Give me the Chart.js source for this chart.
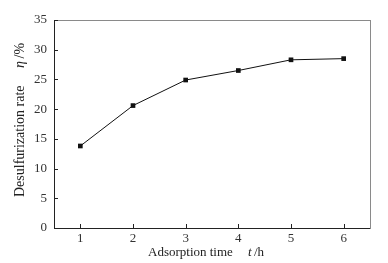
<!DOCTYPE html>
<html>
<head>
<meta charset="utf-8">
<script src="https://cdn.jsdelivr.net/npm/chart.js@4/dist/chart.umd.min.js"></script>
<style>
  html, body { margin: 0; padding: 0; background: #fff; }
  #wrap { width: 388px; height: 263px; }
</style>
</head>
<body>
<div id="wrap"><canvas id="chart" width="388" height="263"></canvas></div>
<script>
// data
const hours = [1, 2, 3, 4, 5, 6];
const rate = [13.8, 20.6, 24.9, 26.5, 28.3, 28.5];
const xTicks = [1, 2, 3, 4, 5, 6];
const yTicks = [0, 5, 10, 15, 20, 25, 30, 35];

const FONT = "Liberation Serif, 'Times New Roman', serif";

// box + inward ticks + axis titles
const frame = {
  id: "frame",
  afterDraw(chart) {
    const { ctx, chartArea: a, scales } = chart;
    ctx.save();
    ctx.strokeStyle = "#8a8a8a";
    ctx.lineWidth = 1;
    ctx.strokeRect(a.left + 0.5, a.top + 0.5, a.right - a.left, a.bottom - a.top);
    ctx.strokeStyle = "#222";
    ctx.beginPath();
    ctx.moveTo(a.left + 0.5, a.top);
    ctx.lineTo(a.left + 0.5, a.bottom + 0.5);
    ctx.lineTo(a.right, a.bottom + 0.5);
    ctx.stroke();

    ctx.beginPath();
    xTicks.forEach((v) => {
      const x = Math.round(scales.x.getPixelForValue(v)) + 0.5;
      ctx.moveTo(x, a.bottom);
      ctx.lineTo(x, a.bottom - 4);
    });
    yTicks.forEach((v) => {
      const y = Math.round(scales.y.getPixelForValue(v)) + 0.5;
      ctx.moveTo(a.left, y);
      ctx.lineTo(a.left + 4, y);
    });
    ctx.stroke();

    ctx.fillStyle = "#222";
    ctx.textBaseline = "middle";
    // x title
    ctx.font = "13px " + FONT;
    ctx.textAlign = "left";
    ctx.fillText("Adsorption time", 148, 253);
    ctx.font = "italic 13px " + FONT;
    ctx.fillText("t", 248, 253);
    ctx.font = "13px " + FONT;
    ctx.fillText("/h", 254, 253);

    // y title
    ctx.translate(20, 0);
    ctx.rotate(-Math.PI / 2);
    ctx.font = "14px " + FONT;
    ctx.fillText("Desulfurization rate", -197, 0);
    ctx.font = "italic 14px " + FONT;
    ctx.fillText("η", -68, 0);
    ctx.font = "14px " + FONT;
    ctx.fillText(" /%", -62, 0);
    ctx.restore();
  },
};

new Chart(document.getElementById("chart"), {
  type: "line",
  data: {
    datasets: [
      {
        data: hours.map((h, i) => ({ x: h, y: rate[i] })),
        borderColor: "#111",
        borderWidth: 1,
        backgroundColor: "#111",
        pointStyle: "rect",
        pointRadius: 3.3,
        pointBorderWidth: 0,
        tension: 0,
      },
    ],
  },
  options: {
    responsive: false,
    animation: false,
    layout: { padding: { top: 20, right: 18, left: 0, bottom: 0 } },
    plugins: { legend: { display: false }, tooltip: { enabled: false } },
    scales: {
      x: {
        type: "linear",
        min: 0.5,
        max: 6.5,
        afterBuildTicks: (s) => { s.ticks = xTicks.map((v) => ({ value: v })); },
        afterFit: (s) => { s.height = 35; },
        grid: { display: false, drawTicks: false },
        border: { display: false },
        ticks: { color: "#333", padding: 3, font: { family: FONT, size: 13 } },
      },
      y: {
        min: 0,
        max: 35,
        afterBuildTicks: (s) => { s.ticks = yTicks.map((v) => ({ value: v })); },
        afterFit: (s) => { s.width = 54; },
        grid: { display: false, drawTicks: false },
        border: { display: false },
        ticks: { color: "#333", padding: 7, font: { family: FONT, size: 13 } },
      },
    },
  },
  plugins: [frame],
});
</script>
</body>
</html>
